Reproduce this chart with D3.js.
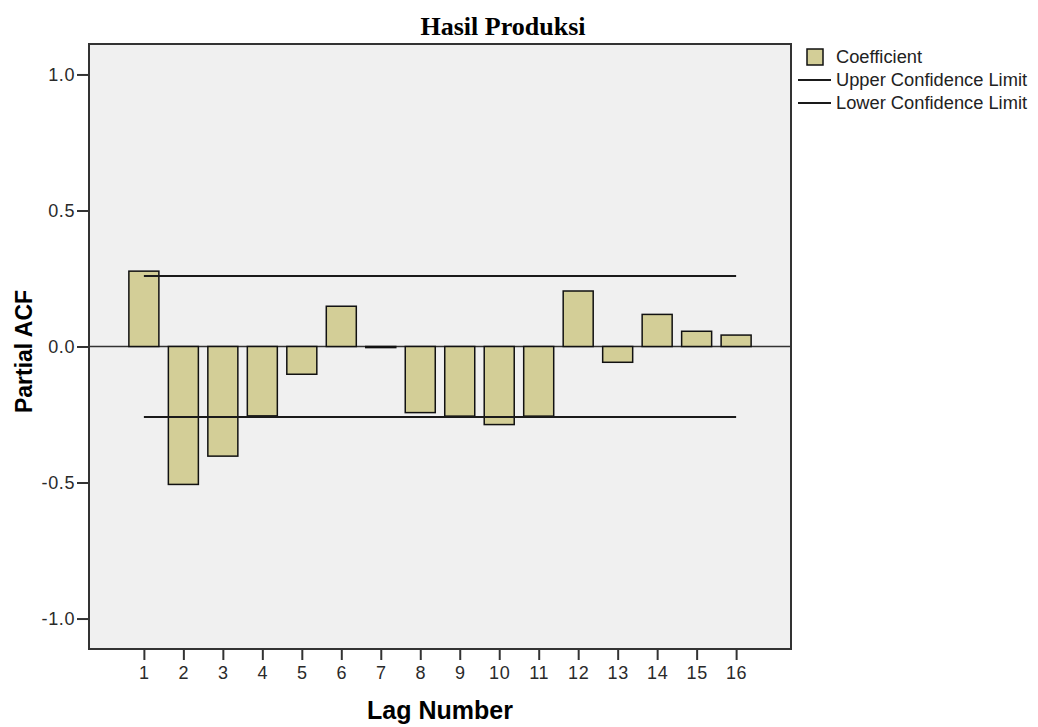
<!DOCTYPE html>
<html>
<head>
<meta charset="utf-8">
<script src="https://cdnjs.cloudflare.com/ajax/libs/d3/7.8.5/d3.min.js"></script>
<style>
  body { margin: 0; background: #fff; }
  svg { display: block; }
  .tick-label { font-family: "Liberation Sans", Arial, sans-serif; font-size: 18px; letter-spacing: 0.6px; fill: #2a2a2a; }
  .axis-title { font-family: "Liberation Sans", Arial, sans-serif; font-size: 23px; font-weight: bold; fill: #000; }
  .legend-text { font-family: "Liberation Sans", Arial, sans-serif; font-size: 18.3px; fill: #222; }
</style>
</head>
<body>
<svg id="chart" width="1038" height="727"></svg>
<script>
// data
var lags = [1, 2, 3, 4, 5, 6, 7, 8, 9, 10, 11, 12, 13, 14, 15, 16];
var coefficients = [0.277, -0.507, -0.403, -0.255, -0.102, 0.148, -0.004, -0.243,
                    -0.256, -0.287, -0.256, 0.204, -0.058, 0.118, 0.056, 0.042];
var upperLimit = [0.259, 0.259];
var lowerLimit = [-0.259, -0.259];
var yTicks = [-1.0, -0.5, 0.0, 0.5, 1.0];
var legendItems = ["Coefficient", "Upper Confidence Limit", "Lower Confidence Limit"];

var frame = { left: 89, right: 791, top: 44, bottom: 649 };
var svg = d3.select("#chart");

var x = d3.scaleLinear().domain([-0.39, 17.39]).range([frame.left, frame.right]);
var y = d3.scaleLinear().domain([-1.112, 1.112]).range([frame.bottom, frame.top]);
var barHalf = 0.38;

// plain hyphen for negatives, like the original
var fmtY = function(d) { return d3.format(".1f")(d).replace("\u2212", "-"); };

// plot background
svg.append("rect")
  .attr("x", frame.left)
  .attr("y", frame.top)
  .attr("width", frame.right - frame.left)
  .attr("height", frame.bottom - frame.top)
  .style("fill", "#f0f0f0");

// zero line
svg.append("line")
  .attr("x1", frame.left).attr("x2", frame.right)
  .attr("y1", y(0)).attr("y2", y(0))
  .style("stroke", "#333").style("stroke-width", 1.5);

// bars
svg.selectAll("rect.bar")
  .data(coefficients)
  .enter()
    .append("rect")
      .classed("bar", true)
      .attr("x", function(d, i) { return x(lags[i] - barHalf); })
      .attr("width", function(d, i) { return x(lags[i] + barHalf) - x(lags[i] - barHalf); })
      .attr("y", function(d) { return y(Math.max(d, 0)); })
      .attr("height", function(d) { return Math.abs(y(d) - y(0)); })
      .style("fill", "#d3ce97")
      .style("stroke", "#111")
      .style("stroke-width", 1.5);

// confidence limits, drawn from first to last lag
var limitLine = d3.line()
  .x(function(d, i) { return x(i === 0 ? lags[0] : lags[lags.length - 1]); })
  .y(function(d) { return y(d); });

[upperLimit, lowerLimit].forEach(function(limit) {
  svg.append("path")
    .attr("d", limitLine(limit))
    .style("fill", "none")
    .style("stroke", "#1a1a1a")
    .style("stroke-width", 2);
});

// frame
svg.append("rect")
  .attr("x", frame.left)
  .attr("y", frame.top)
  .attr("width", frame.right - frame.left)
  .attr("height", frame.bottom - frame.top)
  .style("fill", "none")
  .style("stroke", "#333")
  .style("stroke-width", 2);

// y axis
var yAxis = svg.append("g")
  .attr("transform", "translate(" + frame.left + ",0)")
  .call(d3.axisLeft(y).tickValues(yTicks).tickSize(12).tickFormat(fmtY));
yAxis.select(".domain").remove();
yAxis.selectAll("line").style("stroke", "#333").style("stroke-width", 2);
yAxis.selectAll("text")
  .attr("class", "tick-label")
  .attr("x", -14)
  .attr("dy", "0.35em");

// x axis
var xAxis = svg.append("g")
  .attr("transform", "translate(0," + frame.bottom + ")")
  .call(d3.axisBottom(x).tickValues(lags).tickSize(11).tickFormat(d3.format("d")));
xAxis.select(".domain").remove();
xAxis.selectAll("line").style("stroke", "#333").style("stroke-width", 2);
xAxis.selectAll("text")
  .attr("class", "tick-label")
  .attr("y", 17)
  .attr("dy", "0.71em");

svg.selectAll("g").attr("font-size", null).attr("font-family", null);

// titles
svg.append("text")
  .attr("x", 503)
  .attr("y", 35)
  .attr("text-anchor", "middle")
  .style("font-family", "'Liberation Serif', 'Times New Roman', serif")
  .style("font-weight", "bold")
  .style("font-size", "26px")
  .text("Hasil Produksi");

svg.append("text")
  .attr("class", "axis-title")
  .attr("transform", "translate(32," + ((frame.top + frame.bottom) / 2 + 5) + ")rotate(-90)")
  .attr("text-anchor", "middle")
  .text("Partial ACF");

svg.append("text")
  .attr("class", "axis-title")
  .attr("x", (frame.left + frame.right) / 2)
  .attr("y", 719)
  .attr("text-anchor", "middle")
  .style("font-size", "25px")
  .text("Lag Number");

// legend
var legend = svg.append("g").attr("transform", "translate(798,57)");
var rows = legend.selectAll("g")
  .data(legendItems)
  .enter()
    .append("g")
      .attr("transform", function(d, i) { return "translate(0," + (i * 23) + ")"; });

rows.each(function(d, i) {
  var row = d3.select(this);
  if (i === 0) {
    row.append("rect")
      .attr("x", 9).attr("y", -8)
      .attr("width", 16).attr("height", 16)
      .style("fill", "#d3ce97")
      .style("stroke", "#111")
      .style("stroke-width", 1.5);
  } else {
    row.append("line")
      .attr("x1", 0).attr("x2", 33)
      .attr("y1", 0).attr("y2", 0)
      .style("stroke", "#1a1a1a")
      .style("stroke-width", 2);
  }
  row.append("text")
    .attr("class", "legend-text")
    .attr("x", 38)
    .attr("dy", "0.35em")
    .text(d);
});
</script>
</body>
</html>
